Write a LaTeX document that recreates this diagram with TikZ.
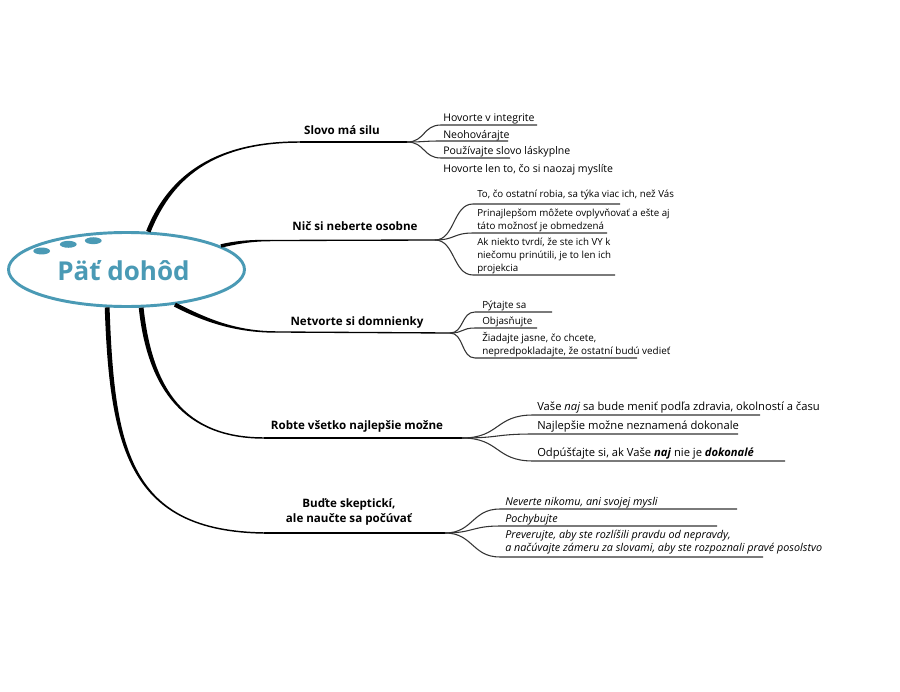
\documentclass[tikz,border=0pt]{standalone}
\usepackage{fontspec}
\setmainfont{Open Sans}
\usetikzlibrary{shapes.geometric,calc}
\definecolor{tealc}{RGB}{74,154,181}
\newcommand\taperbranch[6]{%
  \fill ($(#1)!#5!90:(#2)$) .. controls ($(#2)!#5!-90:(#1)$) and ($(#3)!#6!90:(#4)$) .. ($(#4)!#6!-90:(#3)$)
    -- ($(#4)!#6!90:(#3)$) .. controls ($(#3)!#6!-90:(#4)$) and ($(#2)!#5!90:(#1)$) .. ($(#1)!#5!-90:(#2)$) -- cycle;}
\newcommand\twolines[2]{\vtop{\hbox{#1}\hbox{#2}}}
\newcommand\threelines[3]{\vtop{\hbox{#1}\hbox{#2}\hbox{#3}}}
\tikzset{
  topic/.style={font=\bfseries\fontsize{8.7}{11.25}\selectfont, inner sep=0, align=center},
  mainline/.style={line width=1pt, black},
  subline/.style={line width=0.8pt, black!80},
  itm/.style={inner sep=0, anchor=base west},
  itA/.style={itm, font=\fontsize{7.9}{9}\selectfont},
  itB/.style={itm, font=\fontsize{7.3}{9.9}\selectfont},
  itC/.style={itm, font=\fontsize{7.4}{9.75}\selectfont},
  itD/.style={itm, font=\fontsize{8.4}{10}\selectfont},
  itE/.style={itm, font=\itshape\fontsize{8.1}{10.1}\selectfont},
}
\begin{document}
\begin{tikzpicture}[x=0.75pt,y=-0.75pt]
\useasboundingbox (0,0) rectangle (900,692);
\fill[white] (0,0) rectangle (900,692);

% root
\node[ellipse, draw=tealc, line width=2.2pt, minimum width=177pt, minimum height=55.5pt, inner sep=0] (root) at (126.5,269.5) {};
\node[text=tealc, font=\bfseries\fontsize{19.5}{22}\selectfont, inner sep=0] (title) at (123.5,271) {Päť dohôd};
\fill[tealc] (41.7,251) ellipse [x radius=6.3pt, y radius=2.6pt];
\fill[tealc] (68.3,244.3) ellipse [x radius=6.3pt, y radius=2.6pt];
\fill[tealc] (93.3,240.7) ellipse [x radius=6.3pt, y radius=2.6pt];

% topics
\node[topic] (t1) at (342,130) {Slovo má silu};
\node[topic] (t2) at (355,226) {Nič si neberte osobne};
\node[topic] (t3) at (357,322) {Netvorte si domnienky};
\node[topic] (t4) at (357,426) {Robte všetko najlepšie možne};
\node[topic] (t5) at (349,512) {Buďte skeptickí,\\ale naučte sa počúvať};

% branch ends and forks
\coordinate (e1) at (300,142); \coordinate (f1) at (407,142);
\coordinate (e2) at (272,240.5); \coordinate (f2) at (435,240);
\coordinate (e3) at (277,332); \coordinate (f3) at (450,333);
\coordinate (e4) at (264,438); \coordinate (f4) at (462,438);
\coordinate (e5) at (264,533); \coordinate (f5) at (445,533);

\taperbranch{root.60}{172,172}{220,142}{e1}{1.7pt}{0.55pt}
\taperbranch{root.14}{238,242}{252,240.5}{e2}{1.3pt}{0.55pt}
\taperbranch{root.-36}{205,320}{235,332}{e3}{1.6pt}{0.55pt}
\taperbranch{root.-69}{150,390}{185,438}{e4}{1.8pt}{0.55pt}
\taperbranch{root.-117}{112,450}{130,531}{e5}{1.8pt}{0.55pt}
\draw[mainline] (e1) -- (f1);
\draw[mainline] (e2) -- (f2);
\draw[mainline] (e3) -- (f3);
\draw[mainline] (e4) -- (f4);
\draw[mainline] (e5) -- (f5);

% branch 1 items
\node[itA] (i11) at (443,121.5) {Hovorte v integrite};
\node[itA] (i12) at (443,138) {Neohovárajte};
\node[itA] (i13) at (443,155) {Používajte slovo láskyplne};
\node[itA] (i14) at (443,172) {Hovorte len to, čo si naozaj myslíte};
\coordinate (u11) at (441,125); \coordinate (v11) at (537,125);
\coordinate (u12) at (441,141); \coordinate (v12) at (508,141);
\coordinate (u13) at (441,158); \coordinate (v13) at (510,158);
\draw[subline] (f1) .. controls +(18,0) and +(-18,0) .. (u11) -- (v11);
\draw[subline] (f1) .. controls +(18,0) and +(-18,0) .. (u12) -- (v12);
\draw[subline] (f1) .. controls +(18,0) and +(-18,0) .. (u13) -- (v13);

% branch 2 items
\node[itB] (i21) at (477,197) {To, čo ostatní robia, sa týka viac ich, než Vás};
\node[itB] (i22) at (477,216.5) {\twolines{Prinajlepšom môžete ovplyvňovať a ešte aj}{táto možnosť je obmedzená}};
\node[itB] (i23) at (477,245) {\threelines{Ak niekto tvrdí, že ste ich VY k}{niečomu prinútili, je to len ich}{projekcia}};
\coordinate (u21) at (473,204); \coordinate (v21) at (620,204);
\coordinate (u22) at (473,233); \coordinate (v22) at (607,233);
\coordinate (u23) at (473,275); \coordinate (v23) at (615,275);
\draw[subline] (f2) .. controls +(20,0) and +(-20,0) .. (u21) -- (v21);
\draw[subline] (f2) .. controls +(20,0) and +(-20,0) .. (u22) -- (v22);
\draw[subline] (f2) .. controls +(20,0) and +(-20,0) .. (u23) -- (v23);

% branch 3 items
\node[itC] (i31) at (482,308) {Pýtajte sa};
\node[itC] (i32) at (482,324) {Objasňujte};
\node[itC] (i33) at (482,341.5) {\twolines{Žiadajte jasne, čo chcete,}{nepredpokladajte, že ostatní budú vedieť}};
\coordinate (u31) at (475,312); \coordinate (v31) at (552,312);
\coordinate (u32) at (475,328); \coordinate (v32) at (537,328);
\coordinate (u33) at (475,358); \coordinate (v33) at (637,358);
\draw[subline] (f3) .. controls +(14,0) and +(-14,0) .. (u31) -- (v31);
\draw[subline] (f3) .. controls +(14,0) and +(-14,0) .. (u32) -- (v32);
\draw[subline] (f3) .. controls +(14,0) and +(-14,0) .. (u33) -- (v33);

% branch 4 items
\node[itD] (i41) at (537,410.5) {Vaše \textit{naj} sa bude meniť podľa zdravia, okolností a času};
\node[itD] (i42) at (537,429) {Najlepšie možne neznamená dokonale};
\node[itD] (i43) at (537,456) {Odpúšťajte si, ak Vaše \textbf{\textit{naj}} nie je \textbf{\textit{dokonalé}}};
\coordinate (u41) at (533,415); \coordinate (v41) at (760,415);
\coordinate (u42) at (533,434); \coordinate (v42) at (738,434);
\coordinate (u43) at (533,461); \coordinate (v43) at (785,461);
\draw[subline] (f4) .. controls +(38,0) and +(-38,0) .. (u41) -- (v41);
\draw[subline] (f4) .. controls +(38,0) and +(-38,0) .. (u42) -- (v42);
\draw[subline] (f4) .. controls +(38,0) and +(-38,0) .. (u43) -- (v43);

% branch 5 items
\node[itE] (i51) at (505,505) {Neverte nikomu, ani svojej mysli};
\node[itE] (i52) at (505,522) {Pochybujte};
\node[itE] (i53) at (505,538.5) {\twolines{Preverujte, aby ste rozlíšili pravdu od nepravdy,}{a načúvajte zámeru za slovami, aby ste rozpoznali pravé posolstvo}};
\coordinate (u51) at (500,509); \coordinate (v51) at (737,509);
\coordinate (u52) at (500,526); \coordinate (v52) at (717,526);
\coordinate (u53) at (500,557); \coordinate (v53) at (763,557);
\draw[subline] (f5) .. controls +(28,0) and +(-28,0) .. (u51) -- (v51);
\draw[subline] (f5) .. controls +(28,0) and +(-28,0) .. (u52) -- (v52);
\draw[subline] (f5) .. controls +(28,0) and +(-28,0) .. (u53) -- (v53);
\end{tikzpicture}
\end{document}
